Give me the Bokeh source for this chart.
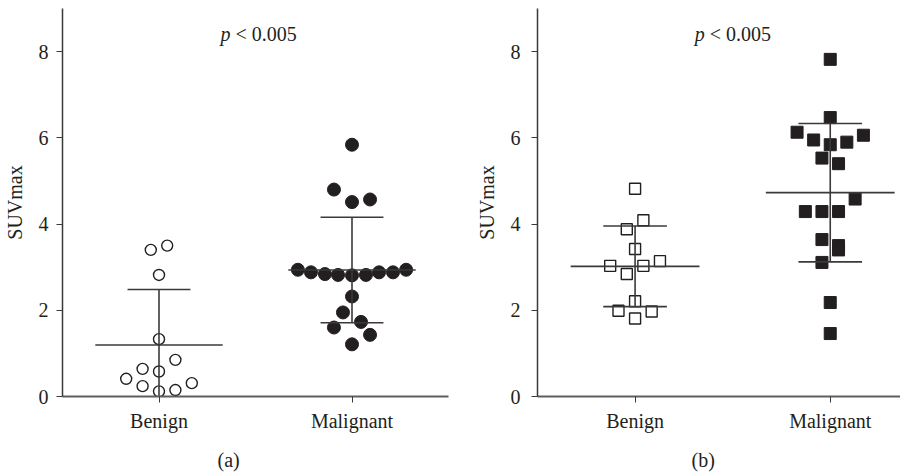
import numpy as np
from bokeh.plotting import figure
from bokeh.layouts import row
from bokeh.models import Range1d, FixedTicker, Label, ColumnDataSource, Title
from bokeh.embed import file_html
from bokeh.resources import INLINE

# ---------------- data ----------------
categories = ["Benign", "Malignant"]
y_ticks = [0, 2, 4, 6, 8]
p_text = "< 0.005"
panel_tags = ["(a)", "(b)"]

# panel (a) SUVmax values
a_benign = [3.40, 3.50, 2.82, 1.33, 0.85, 0.64, 0.58, 0.41, 0.24, 0.31, 0.12, 0.15]
a_malignant = [5.84, 4.80, 4.51, 4.57,
               2.94, 2.88, 2.84, 2.82, 2.81, 2.82, 2.88, 2.88, 2.94,
               2.32, 1.95, 1.60, 1.73, 1.43, 1.21]
# panel (b) SUVmax values
b_benign = [4.82, 4.09, 3.88, 3.42, 3.03, 3.03, 3.14, 2.84, 2.21, 1.99, 1.97, 1.81]
b_malignant = [7.82, 6.47, 6.13, 5.95, 5.84, 5.90, 6.06, 5.53, 5.40, 4.58,
               4.29, 4.29, 4.29, 3.64, 3.50, 3.40, 3.11, 2.18, 1.46]

# horizontal scatter (beeswarm) offsets, in marker steps
a_benign_dx = [-0.5, 0.5, 0, 0, 1, -1, 0, -2, -1, 2, 0, 1]
a_malignant_dx = [0, -1.1, 0, 1.1,
                  -3.3, -2.5, -1.65, -0.85, 0, 0.85, 1.65, 2.5, 3.3,
                  0, -0.55, -1.1, 0.55, 1.1, 0]
b_benign_dx = [0, 0.5, -0.5, 0, -1.5, 0.5, 1.5, -0.5, 0, -1, 1, 0]
b_malignant_dx = [0, 0, -2, -1, 0, 1, 2, -0.5, 0.5, 1.5,
                  -1.5, -0.5, 0.5, -0.5, 0.5, 0.5, -0.5, 0, 0]

INK = "#231f20"
FONT = "Liberation Serif"


def make_panel(benign, malignant, bdx, mdx, marker, size_b, size_m, tag,
               x_end, left, right, ylab_standoff, tick_standoff, tag_offset, p_shift):
    p = figure(width=450, height=482, x_range=Range1d(0, x_end), y_range=Range1d(0, 9),
               output_backend="svg", toolbar_location=None,
               min_border_left=left, min_border_right=right,
               min_border_top=8, min_border_bottom=40)
    p.outline_line_color = None
    p.grid.visible = False
    p.background_fill_color = "white"
    p.border_fill_color = "white"

    # axes
    p.xaxis.ticker = FixedTicker(ticks=[0.5, 1.5])
    p.xaxis.major_label_overrides = {0.5: categories[0], 1.5: categories[1]}
    p.xaxis.minor_tick_line_color = None
    p.xaxis.major_tick_in = 0
    p.xaxis.major_tick_out = 6
    p.xaxis.axis_line_color = "#5e5e5e"
    p.xaxis.axis_line_width = 2
    p.xaxis.major_tick_line_color = "#3a3a3a"
    p.xaxis.major_label_standoff = 7
    p.xaxis.major_label_text_font = FONT
    p.xaxis.major_label_text_font_size = "20px"
    p.xaxis.major_label_text_color = INK

    p.yaxis.ticker = FixedTicker(ticks=y_ticks)
    p.yaxis.minor_tick_line_color = None
    p.yaxis.major_tick_in = 0
    p.yaxis.major_tick_out = 6
    p.yaxis.axis_line_color = "#3a3a3a"
    p.yaxis.axis_line_width = 1.5
    p.yaxis.major_tick_line_color = "#3a3a3a"
    p.yaxis.major_label_standoff = tick_standoff
    p.yaxis.major_label_text_font = FONT
    p.yaxis.major_label_text_font_size = "20px"
    p.yaxis.major_label_text_color = INK
    p.yaxis.axis_label = "SUVmax"
    p.yaxis.axis_label_text_font = FONT
    p.yaxis.axis_label_text_font_style = "normal"
    p.yaxis.axis_label_text_font_size = "20px"
    p.yaxis.axis_label_text_color = INK
    p.yaxis.axis_label_standoff = ylab_standoff

    step = 0.085
    for i, (vals, dx) in enumerate([(benign, bdx), (malignant, mdx)]):
        c = i + 0.5
        xs = [c + d * step for d in dx]
        src = ColumnDataSource(dict(x=xs, y=vals))
        if i == 0:
            p.scatter("x", "y", source=src, marker=marker, size=size_b,
                      fill_color="white", line_color=INK, line_width=1.4)
        else:
            p.scatter("x", "y", source=src, marker=marker, size=size_m,
                      fill_color=INK, line_color=INK, line_width=1)
        m = float(np.mean(vals))
        s = float(np.std(vals, ddof=1))
        lc = "#3a3a3a"
        p.segment(x0=[c - 0.33], x1=[c + 0.33], y0=[m], y1=[m], line_color=lc, line_width=1.6)
        p.segment(x0=[c], x1=[c], y0=[m - s], y1=[m + s], line_color=lc, line_width=1.6)
        p.segment(x0=[c - 0.163, c - 0.163], x1=[c + 0.163, c + 0.163],
                  y0=[m - s, m + s], y1=[m - s, m + s], line_color=lc, line_width=1.6)

    p.add_layout(Label(x=1.0, y=8.41, x_offset=-38 + p_shift, text="p", text_font=FONT,
                       text_font_style="italic", text_font_size="20px", text_color=INK,
                       text_align="left", text_baseline="alphabetic"))
    p.add_layout(Label(x=1.0, y=8.41, x_offset=-23 + p_shift, text=p_text, text_font=FONT,
                       text_font_size="20px", text_color=INK,
                       text_align="left", text_baseline="alphabetic"))
    p.add_layout(Title(text=tag, align="left", offset=tag_offset, text_font=FONT,
                       text_font_size="20px", text_font_style="normal",
                       text_color=INK, standoff=24), "below")
    return p


pa = make_panel(a_benign, a_malignant, a_benign_dx, a_malignant_dx, "circle", 11, 13,
                panel_tags[0], 2.0, 56, 2, 10, 8, 155, 3)
pb = make_panel(b_benign, b_malignant, b_benign_dx, b_malignant_dx, "square", 11, 12,
                panel_tags[1], 1.86, 87, 0, 10, 11, 154, 0)

layout = row(pa, pb)
open("out.html", "w").write(file_html(layout, INLINE))
